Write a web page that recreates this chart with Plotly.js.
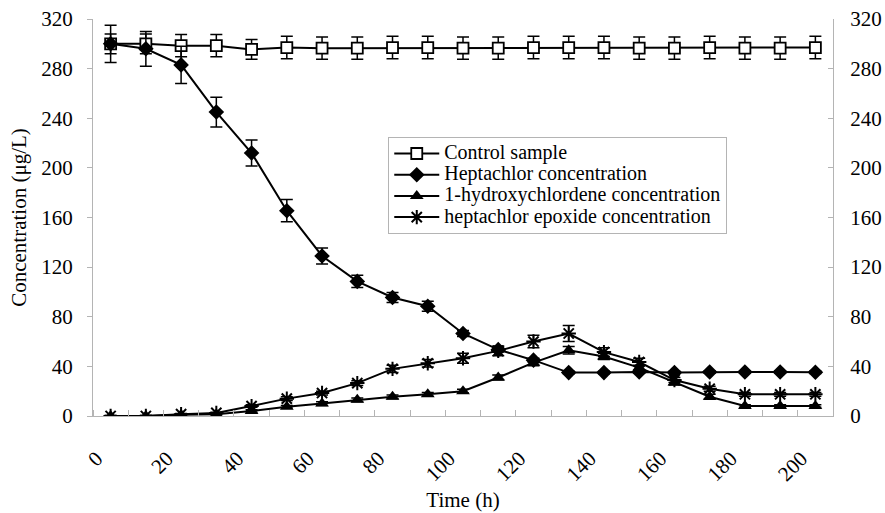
<!DOCTYPE html>
<html><head><meta charset="utf-8">
<script src="https://cdn.plot.ly/plotly-3.0.1.min.js"></script>
<style>html,body{margin:0;padding:0;background:#fff}#chart{width:885px;height:513px}</style>
</head><body><div id="chart"></div>
<script>
// Time (h)
const time = [0,10,20,30,40,50,60,70,80,90,100,110,120,130,140,150,160,170,180,190,200];
const xTickLabels = [0,20,40,60,80,100,120,140,160,180,200];
const yTickLabels = [0,40,80,120,160,200,240,280,320];
const seriesNames = ['Control sample','Heptachlor concentration','1-hydroxychlordene concentration','heptachlor epoxide concentration'];

const controlSample = [300,300,298.5,298.5,295.5,297,296.5,296.5,297,297,296.5,296.5,297,297,297,296.5,296.5,297,296.5,296.5,297];
const controlErr    = [8,8,9,9,8,9,9,9,9,9,9,9,9,9,9,9,9,9,9,9,9];

const heptachlor    = [300,296,283,245,212,165.5,129,108.5,95.5,88.5,66.5,53.5,45,35,35,35.5,35,35.5,35.5,35.5,35.3];
const heptachlorErr = [15,14,15,12,10.5,9,6.5,5,4,4,2.5,2,1.5,1,1,1,1,1,1,1,1];

const hydroxy       = [0,0,1,1.5,4,7.5,10,13,15.5,17.5,20,31,43,53,48,39,27,15.5,8,8,8];
const hydroxyErr    = [0.5,0.5,0.5,0.5,1,1,1.5,1.5,1.5,1.5,1.5,2,2.5,3,2.5,2,2,2,1,1,1];

const epoxide       = [0,0,1.5,2.5,8,14,18.5,26.5,38,42.5,46.5,52.5,60,66.5,51.5,43.5,29,22,17.5,17.5,17.5];
const epoxideErr    = [0.5,0.5,0.5,0.5,1,1.5,1.5,2,3,3,4,4,5,6.5,3.5,3,2,2,1.5,1.5,1.5];

// category boundary tick marks (Excel-style, between points)
const boundaryTicks = [-5,5,15,25,35,45,55,65,75,85,95,105,115,125,135,145,155,165,175,185,195,205];

const FONT = '"Liberation Serif", "Times New Roman", serif';
const AXC = '#b4b4b4';
const FS = 21;
const LFS = 20;

function eb(arr){return {type:'data', array:arr, visible:true, color:'#000', thickness:1.5, width:6};}
function lname(s){return '<span style="font-size:'+LFS+'px">'+s+'</span>';}

const traces = [
 {x:time, y:controlSample, name:lname(seriesNames[0]), mode:'lines+markers', error_y:eb(controlErr),
  line:{color:'#000', width:2}, marker:{symbol:'square', size:11, color:'#fff', line:{color:'#000', width:1.8}}},
 {x:time, y:heptachlor, name:lname(seriesNames[1]), mode:'lines+markers', error_y:eb(heptachlorErr),
  line:{color:'#000', width:2}, marker:{symbol:'diamond', size:12, color:'#000'}},
 {x:time, y:hydroxy, name:lname(seriesNames[2]), mode:'lines+markers', error_y:eb(hydroxyErr),
  line:{color:'#000', width:2}, marker:{symbol:'triangle-up', size:12, color:'#000'}},
 {x:time, y:epoxide, name:lname(seriesNames[3]), mode:'lines+markers', error_y:eb(epoxideErr),
  line:{color:'#000', width:2}, marker:{symbol:'asterisk-open', size:12, color:'#000', line:{color:'#000', width:2}}},
 {x:time, y:controlSample, yaxis:'y2', mode:'lines', showlegend:false, hoverinfo:'skip', opacity:0, line:{width:0}}
];

const layout = {
 width:885, height:513,
 margin:{l:93, r:52, t:19, b:97},
 paper_bgcolor:'#fff', plot_bgcolor:'#fff',
 font:{family:FONT, size:FS, color:'#000'},
 showlegend:true,
 legend:{x:0.399, y:0.703, xanchor:'left', yanchor:'top', bgcolor:'#fff', bordercolor:AXC, borderwidth:1,
   font:{family:FONT, size:14, color:'#000'}, itemwidth:45, tracegroupgap:0},
 xaxis:{range:[-5,205], tickmode:'array', tickvals:xTickLabels, ticktext:xTickLabels.map(String),
   tickangle:-45, ticks:'', showgrid:false, zeroline:false, showline:true, linecolor:AXC, linewidth:1,
   tickfont:{family:FONT, size:FS}, ticklabelstandoff:21, ticklabelshift:-14,
   minor:{tickmode:'array', tickvals:boundaryTicks, ticks:'inside', ticklen:6, tickcolor:AXC, showgrid:false},
   title:{text:'Time (h)', font:{family:FONT, size:FS}, standoff:7}},
 yaxis:{range:[0,320], tickmode:'array', tickvals:yTickLabels, ticks:'outside', ticklen:5, tickcolor:AXC,
   showgrid:false, zeroline:false, showline:true, linecolor:AXC, linewidth:1, tickfont:{family:FONT, size:FS},
   ticklabelstandoff:10,
   title:{text:'Concentration (μg/L)', font:{family:FONT, size:FS}, standoff:8}},
 yaxis2:{range:[0,320], overlaying:'y', side:'right', tickmode:'array', tickvals:yTickLabels, ticks:'inside', ticklen:5,
   tickcolor:AXC, showgrid:false, zeroline:false, showline:true, linecolor:AXC, linewidth:1, tickfont:{family:FONT, size:FS},
   ticklabelstandoff:12}
};

Plotly.newPlot('chart', traces, layout, {displayModeBar:false, staticPlot:true});
</script></body></html>
